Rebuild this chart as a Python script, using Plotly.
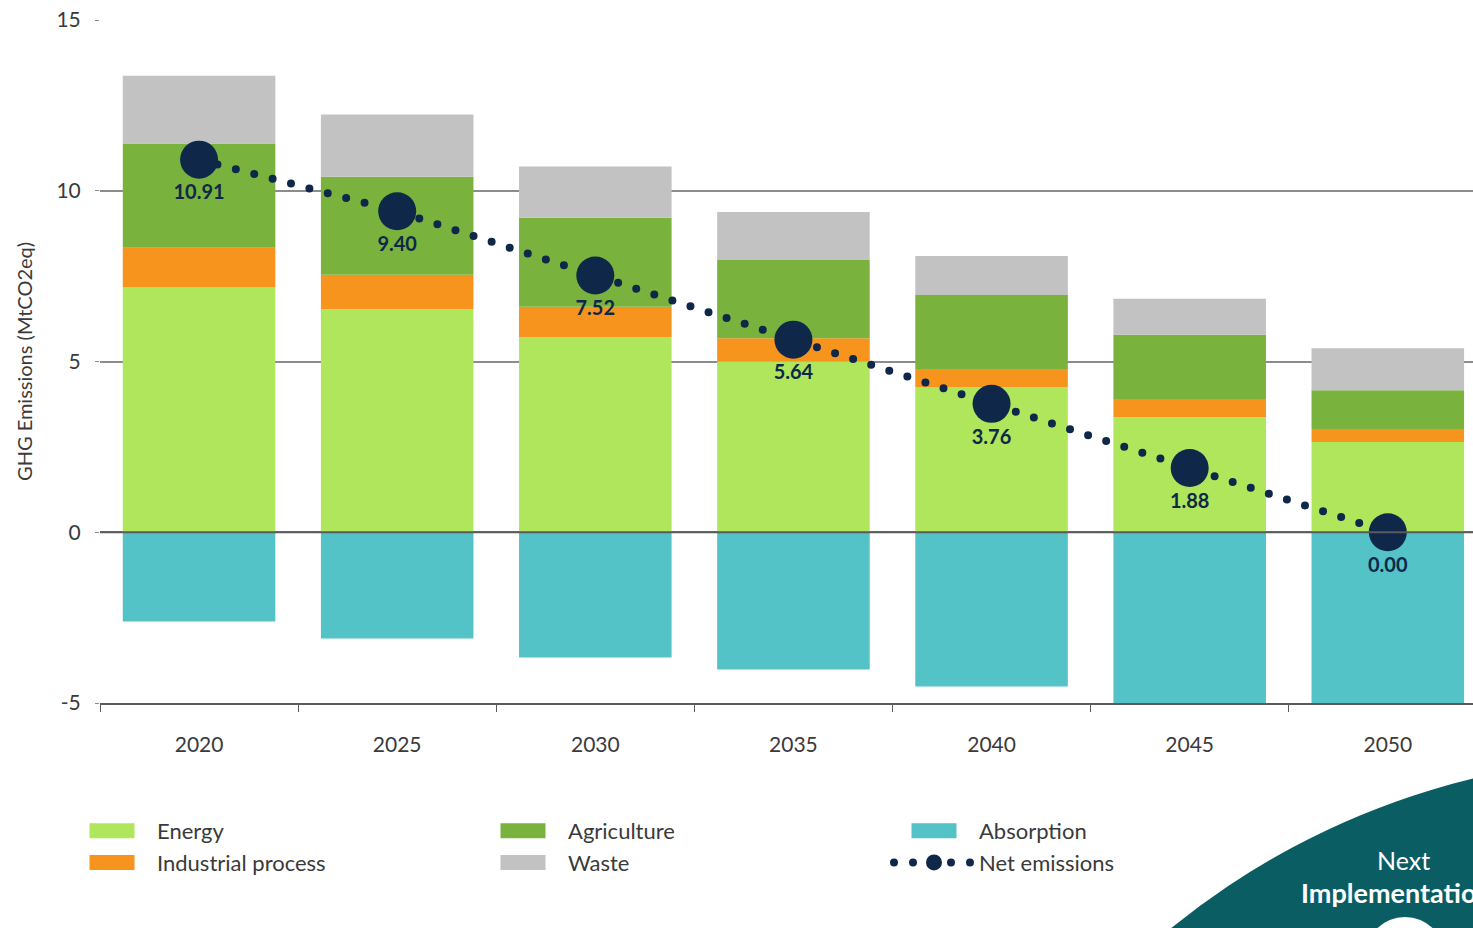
import plotly.graph_objects as go

years = ["2020", "2025", "2030", "2035", "2040", "2045", "2050"]
energy = [7.18, 6.54, 5.72, 5.01, 4.25, 3.37, 2.64]
industrial = [1.15, 1.00, 0.88, 0.67, 0.53, 0.53, 0.38]
agriculture = [3.05, 2.87, 2.61, 2.29, 2.17, 1.88, 1.14]
waste = [1.99, 1.82, 1.50, 1.41, 1.14, 1.06, 1.23]
absorption = [-2.61, -3.11, -3.67, -4.02, -4.52, -5.00, -5.40]
net = [10.91, 9.40, 7.52, 5.64, 3.76, 1.88, 0.00]
ytick_vals = [-5, 0, 5, 10, 15]
ytick_text = ["-5", "0", "5", "10", "15"]

FONT = "Lato"
NAVY = "#0f2849"
TXT = "#3a3a3a"

fig = go.Figure()
bar_w = 0.77
fig.add_trace(go.Bar(x=years, y=energy, name="Energy", marker_color="#b0e65c",
                     width=bar_w, legendrank=1, marker_line_width=0))
fig.add_trace(go.Bar(x=years, y=industrial, name="Industrial process", marker_color="#f7941d",
                     width=bar_w, legendrank=4, marker_line_width=0))
fig.add_trace(go.Bar(x=years, y=agriculture, name="Agriculture", marker_color="#79b33d",
                     width=bar_w, legendrank=2, marker_line_width=0))
fig.add_trace(go.Bar(x=years, y=waste, name="Waste", marker_color="#c2c2c2",
                     width=bar_w, legendrank=5, marker_line_width=0))
fig.add_trace(go.Bar(x=years, y=absorption, name="Absorption", marker_color="#53c3c7",
                     width=bar_w, legendrank=3, marker_line_width=0))
fig.add_trace(go.Scatter(x=years, y=net, name="Net emissions", mode="lines+markers",
                         line=dict(color=NAVY, width=8, dash="0px,19px"),
                         marker=dict(size=38, color=NAVY), legendrank=6, hoverinfo="skip"))
fig.add_trace(go.Scatter(x=years, y=net, mode="markers+text", showlegend=False,
                         marker=dict(size=38, color="rgba(0,0,0,0)"),
                         text=[f"{v:.2f}" for v in net], textposition="bottom center",
                         textfont=dict(family=FONT, size=20, color=NAVY, weight="bold")))

W, H = 1473, 928
ML, MT, MB = 100, 20, 225
pw = W - ML
ph = H - MT - MB

def px_x(p):
    return (p - ML) / pw

def px_y(p):
    return (H - MB - p) / ph

shapes = [
    dict(type="line", xref="paper", yref="y", x0=0, x1=1, y0=0, y1=0,
         line=dict(color="#5a5a5a", width=2), layer="above"),
    dict(type="circle", xref="paper", yref="paper",
         x0=px_x(889), x1=px_x(2417), y0=px_y(2285), y1=px_y(757),
         fillcolor="#0b5d64", line=dict(width=0), layer="above"),
    dict(type="circle", xref="paper", yref="paper",
         x0=px_x(1365), x1=px_x(1445), y0=px_y(997), y1=px_y(917),
         fillcolor="#ffffff", line=dict(width=0), layer="above"),
]

annotations = [
    dict(text="Next", xref="paper", yref="paper", x=px_x(1403), y=px_y(860),
         xanchor="center", yanchor="middle", showarrow=False,
         font=dict(family=FONT, size=25, color="#ffffff")),
    dict(text="<b>Implementation</b>", xref="paper", yref="paper", x=px_x(1299), y=px_y(892),
         xanchor="left", yanchor="middle", showarrow=False,
         font=dict(family=FONT, size=27, color="#ffffff")),
]

fig.update_layout(
    width=W, height=H,
    margin=dict(l=ML, r=0, t=MT, b=MB, autoexpand=False),
    barmode="relative",
    plot_bgcolor="white", paper_bgcolor="white",
    font=dict(family=FONT, color=TXT),
    shapes=shapes, annotations=annotations,
    legend=dict(orientation="h", x=px_x(67), y=px_y(810), xanchor="left", yanchor="top",
                entrywidth=316, entrywidthmode="pixels", itemwidth=80,
                font=dict(family=FONT, size=22, color=TXT), traceorder="normal",
                bgcolor="rgba(0,0,0,0)"),
)
fig.update_xaxes(type="category", range=[-0.5, 6.43], showgrid=False, zeroline=False,
                 showline=True, linecolor="#5a5a5a", linewidth=1.5,
                 ticks="outside", tickson="boundaries", ticklen=7, tickcolor="#5a5a5a",
                 tickfont=dict(family=FONT, size=21, color=TXT), ticklabelstandoff=22)
fig.update_yaxes(range=[-5, 15], tickvals=ytick_vals, ticktext=ytick_text,
                 showgrid=True, gridcolor="#8c8c8c", gridwidth=1.5, zeroline=False,
                 showline=False, ticks="outside", ticklen=4, tickcolor="#8c8c8c",
                 tickfont=dict(family=FONT, size=21, color=TXT), ticklabelstandoff=10,
                 title=dict(text="GHG Emissions (MtCO2eq)", standoff=18,
                            font=dict(family=FONT, size=20, color=TXT)))

post = ("document.body.style.margin='0';"
        "document.querySelectorAll('path.js-line').forEach(function(p){"
        "p.style.strokeLinecap='round';});"
        "document.querySelectorAll('.legend .legendpoints path').forEach(function(p){"
        "var d=(p.getAttribute('d')||'').replace(/\\s/g,'');"
        "if(d==='M6,6H-6V-6H6Z'){p.setAttribute('d','M22.5,7.5H-22.5V-7.5H22.5Z');}});")
fig.write_html("out.html", post_script=post, config={"displayModeBar": False})
